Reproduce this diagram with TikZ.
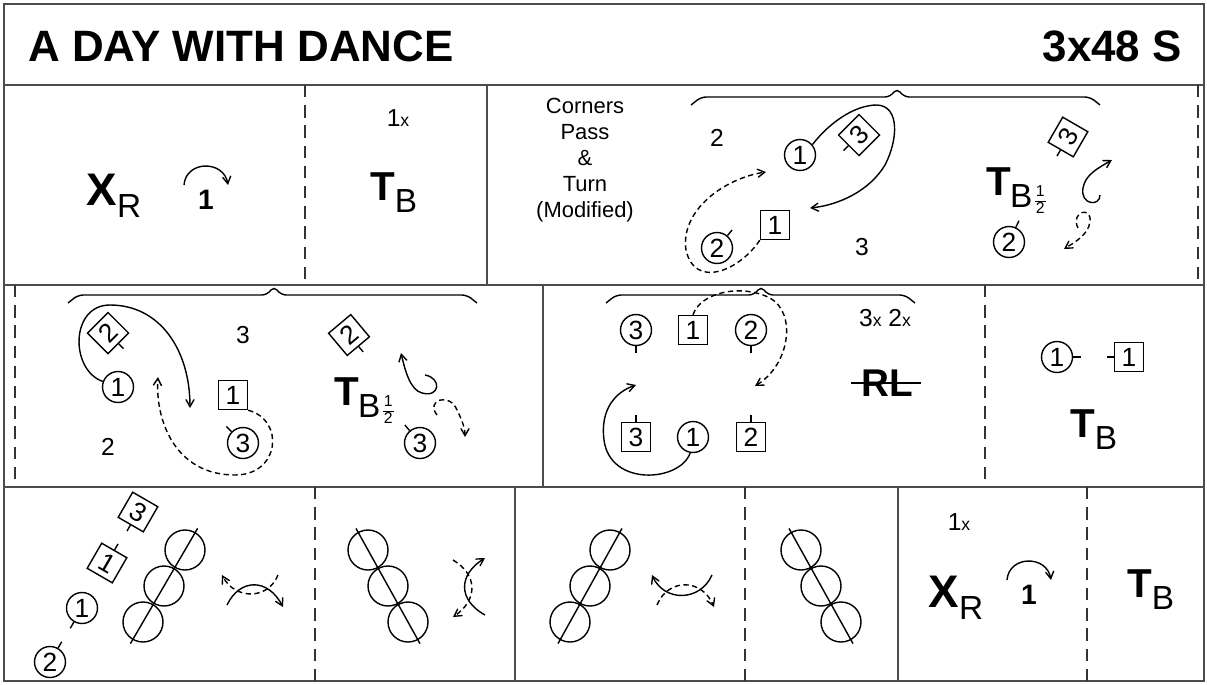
\documentclass[tikz,border=0pt]{standalone}
\usepackage{fontspec}
\setmainfont{Liberation Sans}
\usepackage{tikz}
\usetikzlibrary{arrows,calc}
\tikzset{>=angle 60}
\tikzset{
  frame/.style={draw=black!70,line width=1.3pt},
  sep/.style={draw=black!80,line width=0.9pt,dash pattern=on 7pt off 4.5pt},
  lady/.style={circle,draw,line width=0.8pt,minimum size=0.62cm,inner sep=0pt,font=\fontsize{15}{15}\selectfont},
  man/.style={rectangle,draw,line width=0.8pt,minimum size=0.58cm,inner sep=0pt,font=\fontsize{15}{15}\selectfont},
  num/.style={font=\fontsize{14}{14}\selectfont},
  track/.style={line width=0.8pt},
  back/.style={line width=0.8pt,dash pattern=on 3pt off 2pt},
}
\newcommand{\tick}[2]{\draw[track] (#1.#2) -- ($(#1.center)!1.45!(#1.#2)$);}
\newcommand{\teeb}[3]{\node[anchor=base] (#1) at (#2,#3) {\fontsize{23}{23}\bfseries T\kern-0.5pt\raisebox{-7pt}{\fontsize{19}{19}\mdseries B}};}
\newcommand{\teebhalf}[3]{\node[anchor=base] (#1) at (#2,#3) {\fontsize{23}{23}\bfseries T\kern-0.5pt\raisebox{-7pt}{\fontsize{19}{19}\mdseries B\kern1.5pt\raisebox{1pt}{\fontsize{9}{9}\selectfont\renewcommand{\arraystretch}{1}\tabcolsep=0.5pt\begin{tabular}{c}1\\\hline 2\end{tabular}}}};}
\newcommand{\xr}[3]{\node[anchor=base] (#1) at (#2,#3) {\fontsize{26}{26}\bfseries X\raisebox{-7pt}{\fontsize{19}{19}\mdseries R}};}
\newcommand{\onex}[3]{\node[num] (#1) at (#2,#3) {1{\fontsize{10}{10}\selectfont x}};}
\newcommand{\turnright}[3]{%
  \coordinate (#1) at (#2,#3);
  \draw[track,->] ($(#1)+(-22,0)$) .. controls ($(#1)+(-20,-25)$) and ($(#1)+(18,-25)$) .. ($(#1)+(22,0)$);
  \node[font=\fontsize{16}{16}\bfseries] (#1n) at ($(#1)+(0,15)$) {1};}
\newcommand{\phrase}[4]{\draw[track,rounded corners=3pt] (#1,#4+8) -- (#1+10,#4) -- (#3-7,#4) -- (#3,#4-9) -- (#3+7,#4) -- (#2-10,#4) -- (#2,#4+8);}
\newcommand{\reel}[4]{%
  \foreach \k in {0,1,2} \draw[track] ({#1+\k*(#3)},{#2+\k*(#4)}) circle (0.4cm);
  \draw[track] ({#1-0.6*(#3)},{#2-0.6*(#4)}) -- ({#1+2.6*(#3)},{#2+2.6*(#4)});}

\begin{document}
\begin{tikzpicture}[x=0.02cm,y=-0.02cm]
\useasboundingbox (0,0) rectangle (1207,684);
% frame
\draw[frame] (4,4) rectangle (1204,681);
\draw[frame] (4,85) -- (1204,85);
\draw[frame] (4,285) -- (1204,285);
\draw[frame] (4,487) -- (1204,487);
\draw[frame] (487,85) -- (487,285);
\draw[frame] (543,285) -- (543,487);
\draw[frame] (515,487) -- (515,681);
\draw[frame] (898,487) -- (898,681);
\draw[sep] (305,85) -- (305,285);
\draw[sep] (1198,85) -- (1198,285);
\draw[sep] (15,285) -- (15,487);
\draw[sep] (985,285) -- (985,487);
\draw[sep] (315,487) -- (315,681);
\draw[sep] (745,487) -- (745,681);
\draw[sep] (1087,487) -- (1087,681);

% title
\node[anchor=west,font=\fontsize{25}{25}\bfseries] (title) at (22,46) {A DAY WITH DANCE};
\node[anchor=east,font=\fontsize{25}{25}\bfseries] (form) at (1188,46) {3x48 S};

% bars 1-8
\xr{xr1}{114}{205}
\turnright{turn1}{206}{185}
\onex{one1}{398}{118}
\teeb{tb1}{394}{200}

% bars 9-16: corners pass and turn
\node[align=center,font=\fontsize{12.5}{14.8}\selectfont] (cpt) at (585,160) {Corners\\Pass\\\&\\Turn\\(Modified)};
\phrase{691}{1100}{897}{97}
\node[num] (n2a) at (717,138) {2};
\node[num] (n3a) at (862,247) {3};
\node[lady] (c1a) at (800,155) {1};
\node[man,rotate=45] (m3a) at (859,135) {3}; \tick{m3a}{west}
\node[lady] (c2a) at (717,248) {2}; \tick{c2a}{50}
\node[man] (m1a) at (775,225) {1};
\draw[track,->] (c1a.40) .. controls (830,122) and (855,105) .. (877,105)
  .. controls (900,106) and (898,140) .. (885,165)
  .. controls (870,190) and (840,205) .. (810,208);
\draw[back,->] (m1a.south west) .. controls (740,270) and (695,290) .. (686,250)
  .. controls (680,210) and (725,178) .. (766,172);
\teebhalf{tb2}{1016}{195}
\node[man,rotate=60] (m3b) at (1068,137) {3}; \tick{m3b}{west}
\node[lady] (c2b) at (1009,242) {2}; \tick{c2b}{65}
\draw[track,->] (1100,195) .. controls (1100,207) and (1080,205) .. (1083,188)
  .. controls (1085,175) and (1098,168) .. (1112,160);
\draw[back,->] (1078,228) .. controls (1070,212) and (1092,205) .. (1090,222)
  .. controls (1088,235) and (1075,242) .. (1064,249);

% bars 17-24
\phrase{68}{477}{274}{295}
\node[man,rotate=45] (m2c) at (108,333) {2}; \tick{m2c}{south}
\node[lady] (c1c) at (118,387) {1};
\node[num] (n3c) at (243,335) {3};
\node[num] (n2c) at (108,447) {2};
\node[man] (m1c) at (233,395) {1};
\node[lady] (c3c) at (243,443) {3}; \tick{c3c}{135}
\draw[track,->] (c1c.160) .. controls (70,370) and (70,305) .. (110,305)
  .. controls (160,305) and (190,350) .. (190,408);
\draw[back,->] (m1c.south east) .. controls (285,420) and (280,475) .. (235,475)
  .. controls (175,475) and (155,420) .. (158,377);
\teebhalf{tb3}{364}{405}
\node[man,rotate=40] (m2d) at (349,335) {2}; \tick{m2d}{south}
\node[lady] (c3d) at (420,443) {3}; \tick{c3d}{130}
\draw[track,->] (425,375) .. controls (442,378) and (440,398) .. (422,393)
  .. controls (410,390) and (405,370) .. (401,353);
\draw[back,->] (437,415) .. controls (425,400) and (450,392) .. (457,410)
  .. controls (462,420) and (465,428) .. (465,437);

% bars 25-32: reels of three on the sides
\phrase{606}{915}{761}{295}
\node[lady] (c3e) at (636,330) {3}; \tick{c3e}{270}
\node[man] (m1e) at (693,330) {1};
\node[lady] (c2e) at (751,330) {2}; \tick{c2e}{270}
\node[man] (m3e) at (636,437) {3}; \tick{m3e}{north}
\node[lady] (c1e) at (693,437) {1};
\node[man] (m2e) at (751,437) {2}; \tick{m2e}{north}
\draw[track,->] (c1e.-100) .. controls (680,482) and (610,487) .. (604,440)
  .. controls (600,410) and (615,392) .. (636,385);
\draw[back,->] (m1e.north) .. controls (700,293) and (740,283) .. (770,298)
  .. controls (797,313) and (790,365) .. (755,386);
\node[num] (rep) at (885,318) {3{\fontsize{10}{10}\selectfont x} 2{\fontsize{10}{10}\selectfont x}};
\node[font=\fontsize{22}{22}\bfseries] (rl) at (887,383) {RL};
\draw[line width=1.2pt] ($(rl.west)+(-4,0)$) -- ($(rl.east)+(2,0)$);
\node[lady] (c1f) at (1057,357) {1}; \tick{c1f}{0}
\node[man] (m1f) at (1129,357) {1}; \tick{m1f}{west}
\teeb{tb4}{1094}{437}

% bars 33-48
\node[lady] (c2g) at (50,662) {2}; \tick{c2g}{60}
\node[lady] (c1g) at (82,608) {1}; \tick{c1g}{240}
\node[man,rotate=-30] (m1g) at (107,563) {1}; \tick{m1g}{north}
\node[man,rotate=-30] (m3g) at (138,512) {3}; \tick{m3g}{south}
\reel{185}{550}{-21}{36}
\draw[track,->] (227,605) .. controls (240,578) and (268,578) .. (283,607);
\draw[back,->] (278,575) .. controls (268,600) and (235,600) .. (222,575);
\reel{368}{550}{20}{36}
\draw[track,->] (485,615) .. controls (458,600) and (458,575) .. (485,558);
\draw[back,->] (453,560) .. controls (478,575) and (478,600) .. (453,617);
\reel{610}{550}{-20}{36}
\draw[track,->] (712,575) .. controls (700,602) and (664,602) .. (652,575);
\draw[back,->] (657,605) .. controls (668,578) and (702,578) .. (714,607);
\reel{801}{550}{20}{36}
\onex{one2}{959}{522}
\xr{xr2}{956}{607}
\turnright{turn2}{1029}{580}
\teeb{tb5}{1151}{597}
\end{tikzpicture}
\end{document}
